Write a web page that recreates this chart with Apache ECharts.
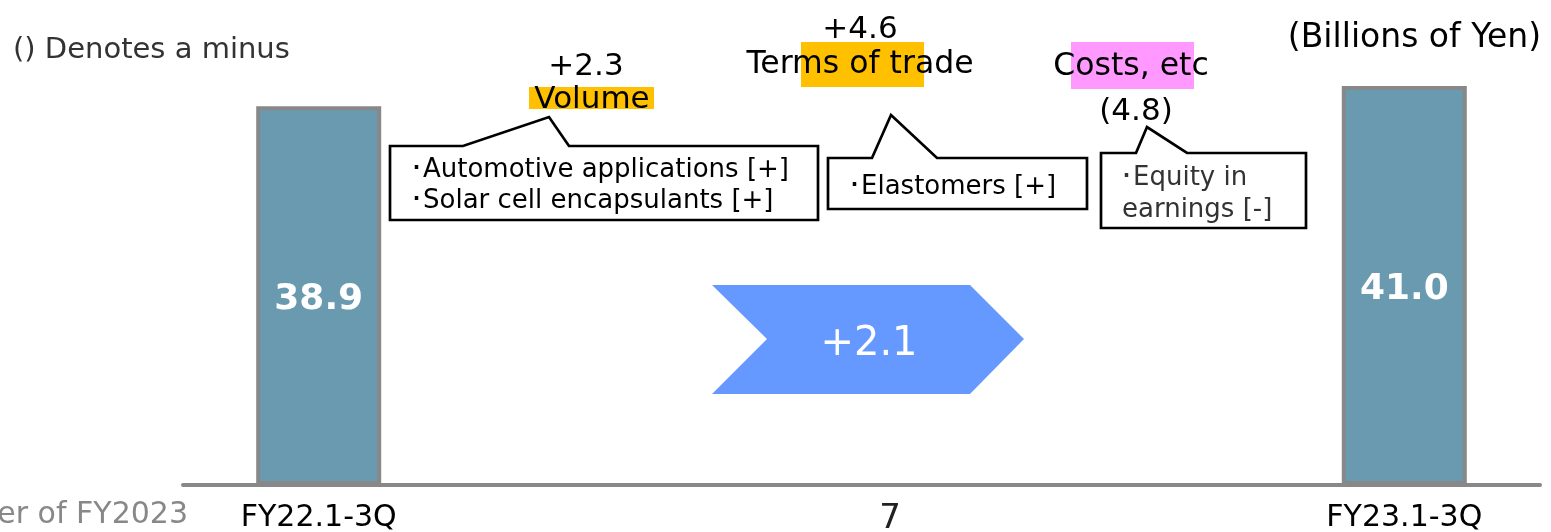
<!DOCTYPE html>
<html>
<head>
<meta charset="utf-8">
<script src="https://cdn.jsdelivr.net/npm/echarts@6/dist/echarts.min.js"></script>
<style>html,body{margin:0;padding:0;background:#fff;}#c{width:1551px;height:532px;}</style>
</head>
<body>
<div id="c"></div>
<script>
// ---- data ----
const categories = ['FY22.1-3Q', '', '', '', 'FY23.1-3Q'];
const totals = [38.9, null, null, null, 41.0];
const factorNames = ['Volume', 'Terms of trade', 'Costs, etc'];
const factorValues = [2.3, 4.6, -4.8];
const totalChange = [2.1];
const factorNotes = [
  ['\uFF65Automotive applications [+]', '\uFF65Solar cell encapsulants [+]'],
  ['\uFF65Elastomers [+]'],
  ['\uFF65Equity in', 'earnings [-]']
];
const unitText = '(Billions of Yen)';
const noteText = '() Denotes a minus';
const footerText = 'er of FY2023';
const pageNo = '7';

function fmtChange(v) { return v < 0 ? '(' + Math.abs(v).toFixed(1) + ')' : '+' + v.toFixed(1); }

const FONT = '"DejaVu Sans", Verdana, sans-serif';
const chart = echarts.init(document.getElementById('c'), null, {renderer: 'canvas'});

function txt(x, y, text, size, color, align, weight) {
  return {type: 'text', x: x, y: y, z: 20, style: {text: text, fill: color || '#000', font: (weight || 'normal') + ' ' + size + 'px ' + FONT, textAlign: align || 'center', textVerticalAlign: 'middle'}};
}
function rect(x, y, w, h, color) {
  return {type: 'rect', z: 10, shape: {x: x, y: y, width: w, height: h}, style: {fill: color}};
}
function callout(x0, y0, x1, y1, p1, tx, ty, p2) {
  return {type: 'polygon', z: 10, shape: {points: [[x0, y0], [p1, y0], [tx, ty], [p2, y0], [x1, y0], [x1, y1], [x0, y1]]}, style: {fill: '#fff', stroke: '#000', lineWidth: 2.7}};
}

const graphics = [
  txt(13, 50, noteText, 29, '#333', 'left'),
  txt(1541, 38, unitText, 33, '#000', 'right'),
  txt(188, 515, footerText, 30, '#888', 'right'),
  txt(890, 519, pageNo, 34, '#222', 'center'),
  // highlights
  rect(529, 87, 125, 22, '#ffc000'),
  rect(801, 42, 123, 45, '#ffc000'),
  rect(1071, 42, 123, 47, '#ff99ff'),
  // factor headers
  txt(586, 67, fmtChange(factorValues[0]), 31),
  txt(592, 100, factorNames[0], 31),
  txt(860, 30, fmtChange(factorValues[1]), 31),
  txt(860, 65, factorNames[1], 31.5),
  txt(1131, 67, factorNames[2], 31.5),
  txt(1136, 112, fmtChange(factorValues[2]), 31),
  // callouts
  callout(390, 146, 818, 220, 463, 549, 117, 569),
  callout(828, 158, 1087, 209, 872, 891, 115, 937),
  callout(1101, 153, 1306, 228, 1136, 1147, 127, 1187),
  txt(410, 170, factorNotes[0][0], 26, '#000', 'left'),
  txt(410, 201, factorNotes[0][1], 26, '#000', 'left'),
  txt(848, 187, factorNotes[1][0], 26, '#000', 'left'),
  txt(1120, 178, factorNotes[2][0], 26, '#333', 'left'),
  txt(1122, 210, factorNotes[2][1], 26, '#333', 'left'),
  // chevron
  {type: 'polygon', z: 10, shape: {points: [[712, 285], [970, 285], [1024, 339], [970, 394], [712, 394], [767, 339]]}, style: {fill: '#6699ff'}},
  txt(869, 345, fmtChange(totalChange[0]), 40, '#fff', 'center')
];

chart.setOption({
  animation: false,
  grid: {left: 183, right: 11, top: 8, bottom: 47, containLabel: false, outerBoundsMode: 'none'},
  xAxis: {
    type: 'category', data: categories,
    axisLine: {lineStyle: {color: '#888', width: 4}},
    axisTick: {show: false},
    axisLabel: {color: '#000', fontSize: 30, fontFamily: FONT, margin: 18, interval: 0}
  },
  yAxis: {type: 'value', min: 0, max: 49, show: false, splitLine: {show: false}},
  series: [{
    type: 'bar', data: totals, barWidth: 125,
    itemStyle: {color: '#699ab0', borderColor: '#888', borderWidth: 4},
    label: {show: true, position: 'inside', offset: [0, 4], color: '#fff', fontSize: 36, fontWeight: 'bold', fontFamily: FONT, formatter: p => p.value.toFixed(1)}
  }],
  graphic: graphics
});
</script>
</body>
</html>
